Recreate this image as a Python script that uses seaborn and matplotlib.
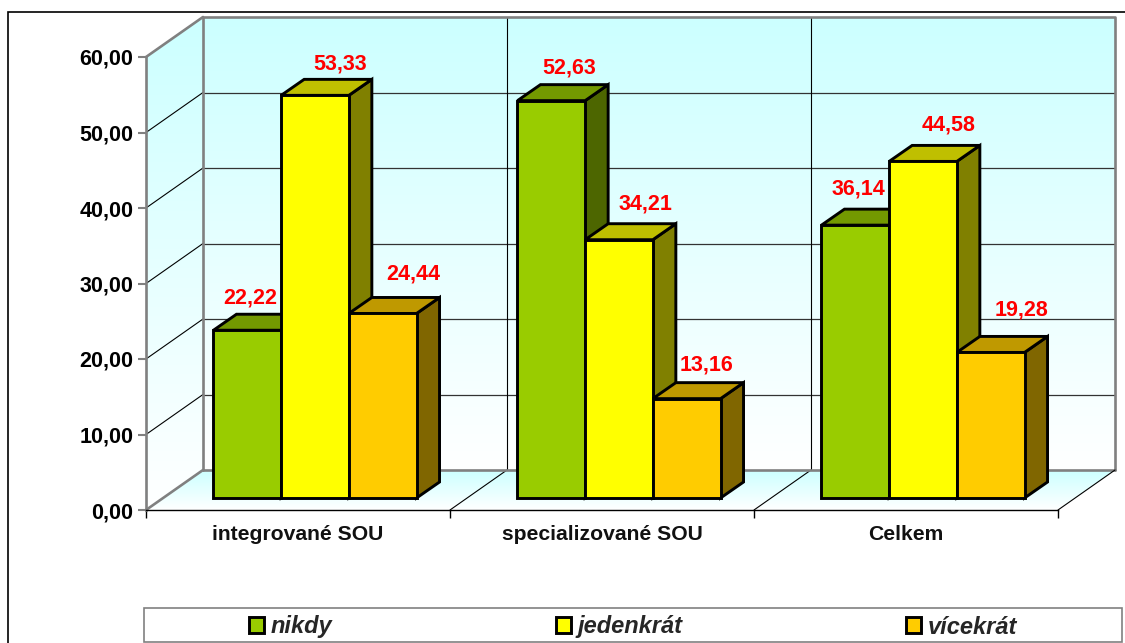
"""
Barras 3D falsas: nikdy / jedenkrát / vícekrát por tipo de SOU.
"""
import matplotlib
matplotlib.use("Agg")
import matplotlib.pyplot as plt
import matplotlib.transforms as mtrans
from matplotlib.patches import Polygon, Rectangle
import seaborn as sns
import pandas as pd
import numpy as np

# ─── Datos ────────────────────────────────────────────────────────────────────

SKOLY = ["integrované SOU", "specializované SOU", "Celkem"]
ODPOVEDI = ["nikdy", "jedenkrát", "vícekrát"]
NIKDY = [22.22, 52.63, 36.14]
JEDENKRAT = [53.33, 34.21, 44.58]
VICEKRAT = [24.44, 13.16, 19.28]
Y_TICKS = [0, 10, 20, 30, 40, 50, 60]

# ─── Estilo ───────────────────────────────────────────────────────────────────

COLORES = ["#99CC00", "#FFFF00", "#FFCC00"]
TECHO = ["#739900", "#BFBF00", "#BF9900"]
LADO = ["#4D6600", "#808000", "#806600"]
GRIS = "#808080"
CIAN = np.array([0.80, 1.0, 1.0])

W, H = 1125, 643
X0, X1, Y0, Y60 = 146, 1058, 510, 57   # plano frontal en px
FONDO = (57, 40)      # desplazamiento de la pared trasera
BARRA = (17, 12)      # frente de las barras respecto al plano frontal
CARA = (23, 16)       # profundidad de cada barra
LW_BARRA = 2.1
LW_GRIS = 1.9

# desplazamiento de cada etiqueta respecto al centro superior de la barra
ETIQUETA_DX = [[3, 18, 3], [25, 26, 26], [31, 20, 31]]
ETIQUETA_DY = [[32, 33, 36], [31, 36, 36], [39, 34, 42]]

sns.set_theme(style="white")
plt.rcParams["font.family"] = ["Liberation Sans", "DejaVu Sans"]

fig = plt.figure(figsize=(W / 100, H / 100), dpi=100)
ax = fig.add_axes([X0 / W, 1 - Y0 / H, (X1 - X0) / W, (Y0 - Y60) / H])

df = pd.DataFrame({
    "skola": SKOLY * 3,
    "odpoved": np.repeat(ODPOVEDI, 3),
    "hodnota": NIKDY + JEDENKRAT + VICEKRAT,
})
sns.barplot(data=df, x="skola", y="hodnota", hue="odpoved", order=SKOLY,
            hue_order=ODPOVEDI, palette=COLORES, width=0.668, gap=0,
            saturation=1, edgecolor="black", linewidth=LW_BARRA, ax=ax)
ax.set_xlim(-0.5, 2.5)
ax.set_ylim(0, 60)


def corr(dx, dy):
    """transData corrido dx, dy píxeles (dy hacia arriba)."""
    return ax.transData + mtrans.ScaledTranslation(dx / 100, dy / 100, fig.dpi_scale_trans)


# ─── Paredes y suelo con degradado ────────────────────────────────────────────

grad = np.linspace(0, 1, 256)[:, None, None]
grad = np.clip(CIAN + (1 - CIAN) * grad, 0, 1)      # fila 0 = cian, final = blanco
fx, fy = FONDO[0] / 304, FONDO[1] / 7.55

fondo = corr(*FONDO)
ax.imshow(grad, extent=(-0.5, 2.5, 0, 60), origin="upper", aspect="auto",
          transform=fondo, clip_on=False, zorder=0.1)

izq = ax.imshow(grad, extent=(-0.5, -0.5 + fx, 0, 60 + fy),
                origin="upper", aspect="auto", zorder=0.1)
izq.set_clip_box(fig.bbox)
izq.set_clip_path(Polygon([(-0.5, 0), (-0.5, 60), (-0.5 + fx, 60 + fy), (-0.5 + fx, fy)],
                          transform=ax.transData))

suelo = ax.imshow(grad, extent=(-0.5, 2.5 + fx, 0, fy),
                  origin="upper", aspect="auto", zorder=0.1)
suelo.set_clip_box(fig.bbox)
suelo.set_clip_path(Polygon([(-0.5, 0), (2.5, 0), (2.5 + fx, fy), (-0.5 + fx, fy)],
                            transform=ax.transData))
ax.set_xlim(-0.5, 2.5)
ax.set_ylim(0, 60)

# ─── Rejilla ──────────────────────────────────────────────────────────────────

for y in Y_TICKS[1:-1]:
    ax.plot([-0.5, 2.5], [y, y], color="#333333", lw=0.9, transform=fondo,
            clip_on=False, zorder=0.5)
    ax.plot([-0.5, -0.5 + fx], [y, y + fy], color="black", lw=0.8, clip_on=False, zorder=0.5)
for x in [0.5, 1.5]:
    ax.plot([x, x], [0, 60], color="black", lw=0.8, transform=fondo,
            clip_on=False, zorder=0.5)
    ax.plot([x, x + fx], [0, fy], color="black", lw=0.8, clip_on=False, zorder=0.5)

# marco gris de paredes
ax.plot([-0.5, -0.5, 2.5, 2.5], [0, 60, 60, 0], color=GRIS, lw=LW_GRIS, transform=fondo,
        clip_on=False, zorder=0.6)
ax.plot([-0.5, 2.5], [0, 0], color=GRIS, lw=LW_GRIS, transform=fondo, clip_on=False, zorder=0.6)
ax.plot([-0.5, -0.5 + fx], [60, 60 + fy], color=GRIS, lw=LW_GRIS, clip_on=False, zorder=0.6)
ax.plot([-0.5, -0.5 + fx], [0, fy], color=GRIS, lw=LW_GRIS, clip_on=False, zorder=0.6)
ax.plot([2.5, 2.5 + fx], [0, fy], color="black", lw=0.8, clip_on=False, zorder=0.6)

# ─── Barras con techo y lado ──────────────────────────────────────────────────

base = corr(*BARRA)
cara_dx, cara_dy = CARA[0] / 304, CARA[1] / 7.55

for h, cont in enumerate(ax.containers):
    for c, bar in enumerate(cont.patches):
        z = 2 + c * 3 + h * 0.5
        x, w, top = bar.get_x(), bar.get_width(), bar.get_height()
        bar.set_transform(base)
        bar.set_clip_on(False)
        bar.set_zorder(z + 0.2)
        lado = Polygon([(x + w, 0), (x + w + cara_dx, cara_dy),
                        (x + w + cara_dx, top + cara_dy), (x + w, top)],
                       facecolor=LADO[h], edgecolor="black", lw=LW_BARRA,
                       joinstyle="miter", transform=base, clip_on=False, zorder=z)
        techo = Polygon([(x, top), (x + cara_dx, top + cara_dy),
                         (x + w + cara_dx, top + cara_dy), (x + w, top)],
                        facecolor=TECHO[h], edgecolor="black", lw=LW_BARRA,
                        joinstyle="miter", transform=base, clip_on=False, zorder=z + 0.1)
        ax.add_patch(lado)
        ax.add_patch(techo)
        ax.text(x + w / 2, top, f"{top:.2f}".replace(".", ","),
                transform=corr(BARRA[0] + ETIQUETA_DX[h][c], BARRA[1] + ETIQUETA_DY[h][c]),
                ha="center", va="center", color="#FF0000", fontsize=15.5,
                fontweight="bold", zorder=30)

# ─── Ejes ─────────────────────────────────────────────────────────────────────

sns.despine(ax=ax, top=True, right=True)
ax.spines["left"].set_color(GRIS)
ax.spines["left"].set_linewidth(LW_GRIS)
ax.spines["bottom"].set_color("black")
ax.spines["bottom"].set_linewidth(1.0)
ax.spines["left"].set_zorder(1)
ax.spines["bottom"].set_zorder(1)

ax.set_yticks(Y_TICKS)
ax.set_yticklabels([f"{v:.2f}".replace(".", ",") for v in Y_TICKS],
                   fontsize=15.5, fontweight="bold", color="black")
ax.tick_params(axis="y", left=True, length=6, width=1.5, color=GRIS, pad=3)
ax.set_xticks([-0.5, 0.5, 1.5, 2.5])
ax.set_xticklabels([])
ax.tick_params(axis="x", bottom=True, length=6, width=1.0, color="black")
ax.set_xlabel("")
ax.set_ylabel("")
for i, nombre in enumerate(SKOLY):
    ax.text(i, 0, nombre, transform=corr(0, -25), ha="center", va="center",
            fontsize=15.2, fontweight="bold", color="#111111")

# ─── Marco exterior y leyenda ─────────────────────────────────────────────────

fig.add_artist(Rectangle((8 / W, -0.02), 1.1, 1 - 12 / H + 0.02, transform=fig.transFigure,
                         facecolor="none", edgecolor="black", lw=1.2, zorder=-1))
fig.add_artist(Rectangle((144 / W, 1 - 642 / H), (1122 - 144) / W, 34 / H,
                         transform=fig.transFigure, facecolor="white",
                         edgecolor=GRIS, lw=1.2, zorder=1))

handles, etiquetas = ax.get_legend_handles_labels()
ax.get_legend().remove()
ley = fig.legend(handles, etiquetas, ncol=3, frameon=False, loc="center",
                 bbox_to_anchor=(633 / W, 1 - 627 / H), handlelength=0.63,
                 handleheight=0.63, handletextpad=0.3, columnspacing=9.45,
                 prop={"size": 17, "weight": "bold", "style": "italic"})
ley.set_zorder(2)
for p in ley.get_patches():
    p.set_linewidth(LW_BARRA)

fig.savefig("out.png", dpi=100)
